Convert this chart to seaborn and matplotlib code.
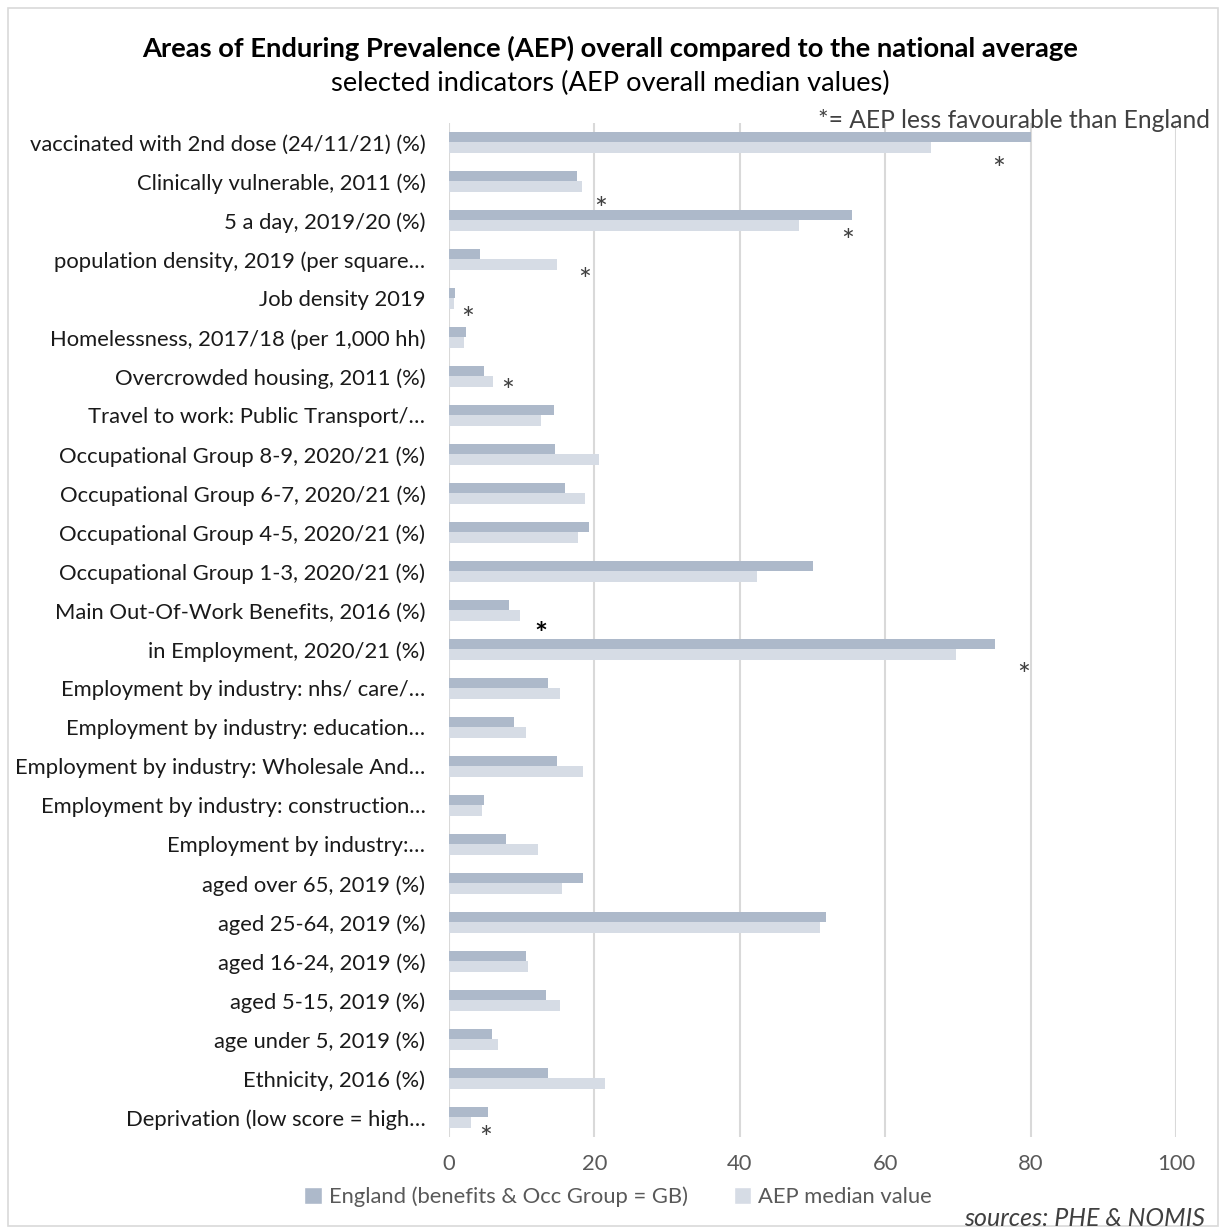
import matplotlib
matplotlib.use("Agg")
import matplotlib.pyplot as plt
import seaborn as sns
import pandas as pd
from matplotlib.patches import Rectangle, Patch

categories = [
    "vaccinated with 2nd dose (24/11/21) (%)",
    "Clinically vulnerable, 2011 (%)",
    "5 a day, 2019/20 (%)",
    "population density, 2019 (per square…",
    "Job density 2019",
    "Homelessness, 2017/18 (per 1,000 hh)",
    "Overcrowded housing, 2011 (%)",
    "Travel to work: Public Transport/…",
    "Occupational Group 8-9, 2020/21 (%)",
    "Occupational Group 6-7, 2020/21 (%)",
    "Occupational Group 4-5, 2020/21 (%)",
    "Occupational Group 1-3, 2020/21 (%)",
    "Main Out-Of-Work Benefits, 2016 (%)",
    "in Employment, 2020/21 (%)",
    "Employment by industry: nhs/ care/…",
    "Employment by industry: education…",
    "Employment by industry: Wholesale And…",
    "Employment by industry: construction…",
    "Employment by industry:…",
    "aged over 65, 2019 (%)",
    "aged 25-64, 2019 (%)",
    "aged 16-24, 2019 (%)",
    "aged 5-15, 2019 (%)",
    "age under 5, 2019 (%)",
    "Ethnicity, 2016 (%)",
    "Deprivation (low score = high…",
]
england = [80.1, 17.6, 55.4, 4.3, 0.8, 2.4, 4.8, 14.5, 14.6, 16.0, 19.2, 50.0, 8.3,
           75.1, 13.6, 8.9, 14.8, 4.8, 7.8, 18.4, 51.8, 10.6, 13.4, 5.9, 13.6, 5.4]
aep = [66.3, 18.3, 48.1, 14.9, 0.7, 2.0, 6.0, 12.6, 20.6, 18.7, 17.8, 42.4, 9.8,
       69.7, 15.3, 10.6, 18.4, 4.5, 12.2, 15.5, 51.0, 10.8, 15.2, 6.8, 21.4, 3.0]
series_names = ["England (benefits & Occ Group = GB)", "AEP median value"]
colors = ["#adb9ca", "#d6dce5"]
star_cats = [0, 1, 2, 3, 4, 6, 12, 13, 25]
star_x = [75.6, 20.9, 54.8, 18.6, 2.5, 8.0, 12.7, 79.0, 5.1]
star_dy = [0.70, 0.72, 0.54, 0.54, 0.54, 0.41, 0.62, 0.67, 0.55]
star_bold = [False, False, False, False, False, False, True, False, False]

rows = []
for c, e, a in zip(categories, england, aep):
    rows.append({"indicator": c, "series": series_names[0], "value": e})
    rows.append({"indicator": c, "series": series_names[1], "value": a})
df = pd.DataFrame(rows)

sns.set_theme(style="white")
plt.rcParams["font.family"] = ["Lato", "DejaVu Sans"]

fig = plt.figure(figsize=(12.2, 12.28), dpi=100)
ax = fig.add_axes([449/1220, 1 - 1137/1228, (1176-449)/1220, (1137-123)/1228])

sns.barplot(data=df, y="indicator", x="value", hue="series", order=categories,
            hue_order=series_names, palette=colors, orient="h", width=0.53,
            saturation=1, gap=0, ax=ax, legend=False, linewidth=0, zorder=3)

ax.set_xlim(0, 100)
ax.set_ylim(25.5, -0.5)
ax.set_xticks([0, 20, 40, 60, 80, 100])
ax.grid(axis="x", color="#d9d9d9", linewidth=1.5, zorder=0)
ax.grid(axis="y", visible=False)
ax.set_axisbelow(True)
for s in ax.spines.values():
    s.set_visible(False)
ax.set_xlabel("")
ax.set_ylabel("")
ax.tick_params(axis="both", length=0)
ax.tick_params(axis="y", labelsize=15.8, labelcolor="#1a1a1a", pad=17)
ax.tick_params(axis="x", labelsize=15.8, labelcolor="#595959", pad=12)

for ci, sx, dy, b in zip(star_cats, star_x, star_dy, star_bold):
    ax.text(sx, ci + dy, "*", ha="center", va="center", fontsize=22,
            color="#000000" if b else "#404040",
            fontweight="bold" if b else "normal", zorder=5)

fig.text(0.5, 1 - 48/1228, "Areas of Enduring Prevalence (AEP) overall compared to the national average",
         ha="center", va="center", fontsize=19.7, fontweight="bold", color="#000000")
fig.text(0.5, 1 - 83/1228, "selected indicators (AEP overall median values)",
         ha="center", va="center", fontsize=19.6, color="#000000")
fig.text(1210/1220, 1 - 121/1228, "*= AEP less favourable than England",
         ha="right", va="center", fontsize=17.7, color="#404040")
fig.text(1205/1220, 1 - 1218/1228, "sources: PHE & NOMIS",
         ha="right", va="center", fontsize=18, style="italic", color="#404040")

handles = [Patch(facecolor=colors[0]), Patch(facecolor=colors[1])]
fig.legend(handles, series_names, loc="center", bbox_to_anchor=(618/1220, 1 - 1197/1228),
           ncol=2, frameon=False, fontsize=15.8, handlelength=0.8, handleheight=0.8,
           handletextpad=0.3, columnspacing=2.1, labelcolor="#595959")

fig.patches.append(Rectangle((8/1220, 1 - 1226/1228), 1210/1220, 1218/1228,
                             transform=fig.transFigure, fill=False,
                             edgecolor="#d9d9d9", linewidth=1.2))

fig.savefig("out.png", dpi=100)
